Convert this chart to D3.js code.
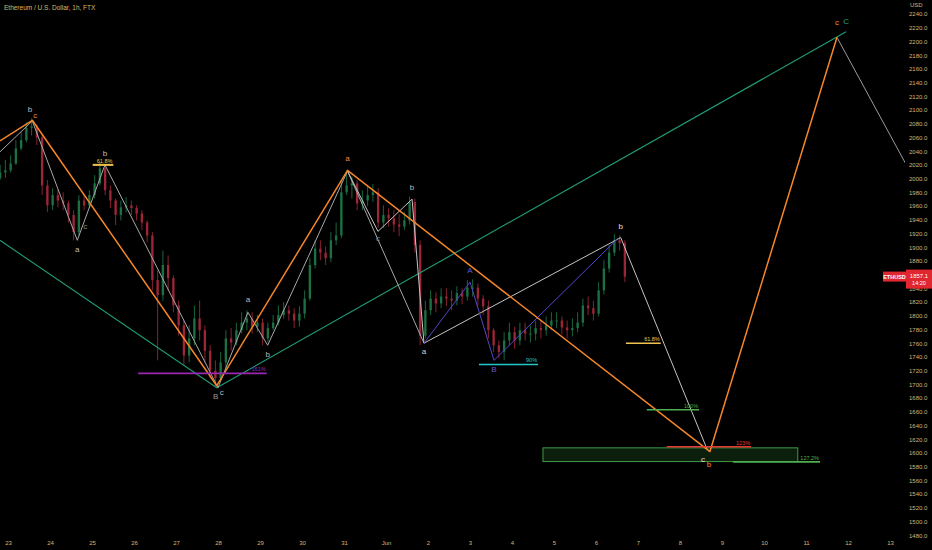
<!DOCTYPE html>
<html><head><meta charset="utf-8">
<script src="https://cdn.jsdelivr.net/npm/d3@7"></script>
<style>html,body{margin:0;padding:0;background:#000;overflow:hidden}svg{display:block}</style>
</head><body>
<script>
// ---------- DATA ----------
const title = "Ethereum / U.S. Dollar, 1h, FTX";
const candleStart = "2021-05-22T18:00:00Z";   // 3h candles
const candleHours = 3;
const firstOpen = 2001;
const closes = [2009,2012,2022,2044,2056,2074,2076,2060,1990,1961,1976,1968,1964,1947,1922,1968,1961,1976,1993,2015,
  1983,1968,1947,1958,1961,1957,1949,1936,1917,1852,1830,1874,1855,1815,1786,1742,1767,1796,1779,1749,
  1720,1709,1732,1767,1761,1779,1790,1796,1784,1790,1767,1782,1790,1801,1808,1803,1793,1803,1825,1874,
  1898,1892,1884,1910,1917,1980,1990,1993,1964,1968,1976,1980,1936,1947,1942,1933,1930,1939,1966,1903,
  1771,1808,1825,1818,1828,1825,1822,1833,1828,1841,1841,1825,1814,1779,1757,1747,1764,1776,1764,1779,
  1774,1774,1782,1779,1786,1793,1793,1783,1779,1782,1790,1815,1811,1803,1837,1869,1892,1910,1906,1857];
const highs = [2020,2027,2034,2056,2068,2082,2088,2079,2063,1998,1986,1983,1980,1968,1954,1976,1976,1983,2005,2024,
  2020,1990,1971,1968,1973,1968,1961,1954,1939,1922,1866,1895,1888,1859,1822,1793,1786,1815,1822,1786,
  1757,1735,1747,1779,1782,1790,1805,1808,1805,1801,1796,1790,1801,1815,1820,1815,1811,1814,1837,1884,
  1910,1910,1901,1922,1936,1998,2009,2003,1998,1983,1989,1992,1986,1961,1957,1954,1948,1951,1974,1971,
  1910,1822,1837,1834,1840,1840,1837,1843,1840,1852,1853,1847,1830,1822,1782,1764,1776,1790,1784,1790,
  1790,1786,1793,1793,1799,1805,1805,1799,1793,1796,1805,1825,1828,1822,1849,1881,1903,1919,1917,1910];
const lows = [1998,2001,2009,2020,2041,2053,2063,2049,1976,1951,1954,1958,1954,1936,1910,1917,1954,1957,1971,1990,
  1976,1957,1932,1939,1951,1947,1939,1925,1907,1837,1735,1822,1837,1805,1771,1728,1732,1757,1764,1732,
  1709,1697,1706,1723,1749,1757,1774,1779,1774,1776,1757,1761,1779,1786,1796,1793,1782,1784,1796,1822,
  1869,1881,1874,1878,1903,1913,1976,1971,1954,1954,1960,1966,1928,1928,1930,1922,1916,1925,1933,1892,
  1757,1767,1801,1805,1811,1814,1808,1815,1817,1822,1828,1814,1801,1767,1747,1738,1735,1757,1752,1757,
  1764,1761,1764,1767,1771,1779,1782,1773,1767,1770,1776,1784,1801,1793,1799,1831,1863,1887,1895,1849];

// wave drawings: [hours from 2021-05-23 00:00 UTC, price]
const waveOrange = [[-4.6,2055],[13.9,2085],[119.3,1698],[194,2012],[401.1,1602],[473.7,2206]];
const waveGrey1 = [[-4.6,2039],[13.9,2084],[39.6,1910],[55.4,2020],[120,1695],[137.1,1805],[148.4,1757],[194,2011],[237.7,1760]];
const waveGrey2 = [[194,2011],[211.4,1923],[230.9,1970],[237.7,1760],[350.1,1914],[399.4,1606]];
const waveGrey3 = [[473.7,2206],[518,1998]];
const channelTeal = [[-4.6,1910],[119.3,1695],[478.9,2214]];
const wavePurple = [[237.7,1760],[264,1849],[277.7,1735],[348.6,1913]];

// horizontal levels: [h0, h1, price, label, color]
const levels = [
  [74.4,147.8,1716,"161%","#9c27b0"],
  [48.4,60.2,2020,"61.8%","#f2c14e"],
  [269.1,302.9,1729,"90%","#26c6c6"],
  [353.1,373,1760,"61.8%","#f2c14e"],
  [365,394.9,1663,"100%","#4caf50"],
  [376.4,424.6,1609,"123%","#e53935"],
  [414.3,464,1587,"127.2%","#4caf50"]
];
const targetBox = [305.7,451.3,1607.4,1587.4];

// wave labels: [hours, price, text, color]
const waveLabels = [
  [12.6,2097,"b","#bdbdbd"],[15.6,2089,"c","#e08a3a"],
  [39.6,1893,"a","#bdbdbd"],[44.2,1926,"c","#8a8a8a"],[55.4,2033,"b","#bdbdbd"],
  [118.6,1679,"B","#9e9e9e"],[122.2,1684,"c","#bdbdbd"],
  [137.1,1820,"a","#bdbdbd"],[148.4,1740,"b","#bdbdbd"],
  [194,2026,"a","#f0883e"],[211.4,1909,"c","#8a8a8a"],[230.9,1984,"b","#bdbdbd"],
  [237.7,1744,"a","#d0d0d0"],[264,1863,"A","#6a5acd"],[277.7,1718,"B","#6a5acd"],
  [350.1,1927,"b","#e0e0e0"],[397.1,1587,"c","#e0e0e0"],[400.5,1580,"b","#f0883e"],
  [473.7,2224,"c","#f0883e"],[478.9,2226,"C","#26a07a"]
];

const xTickLabels = ["23","24","25","26","27","28","29","30","31","Jun","2","3","4","5","6","7","8","9","10","11","12","13"];
const yTicks = [1480,1500,1520,1540,1560,1580,1600,1620,1640,1660,1680,1700,1720,1740,1760,1780,1800,1820,1840,1880,1900,1920,1940,1960,1980,2000,2020,2040,2060,2080,2100,2120,2140,2160,2180,2200,2220,2240];
const lastPrice = 1857.1;
const countdown = "14:20";
const symbol = "ETHUSD";

// ---------- CHART ----------
const W = 932, H = 550, plotRight = 905;
const base = Date.parse("2021-05-23T00:00:00Z");
const hToDate = h => new Date(base + h*3600e3);

const x = d3.scaleUtc().domain([new Date("2021-05-23T00:00:00Z"), new Date("2021-06-13T00:00:00Z")]).range([8, 890]);
const y = d3.scaleLinear().domain([1500, 2240]).range([521.5, 14]);

const svg = d3.select("body").append("svg").attr("width", W).attr("height", H)
  .style("font-family", "'Liberation Sans', Arial, sans-serif");
svg.append("rect").attr("width", W).attr("height", H).attr("fill", "#000");

svg.append("defs").append("clipPath").attr("id", "plot")
  .append("rect").attr("x", 0).attr("y", 0).attr("width", plotRight).attr("height", H);
const g = svg.append("g").attr("clip-path", "url(#plot)");

// candles
const t0 = Date.parse(candleStart);
const candles = closes.map((c, i) => ({
  t: new Date(t0 + i*candleHours*3600e3),
  o: i === 0 ? firstOpen : closes[i-1], c, h: highs[i], l: lows[i]
}));
const step = x(new Date(t0 + candleHours*3600e3)) - x(new Date(t0));
const bw = step * 0.45;
const cg = g.append("g");
candles.forEach(d => {
  const cx = x(d.t) + step/2;
  const col = d.c >= d.o ? "#1c7044" : "#9a2636";
  cg.append("line").attr("x1", cx).attr("x2", cx).attr("y1", y(d.h)).attr("y2", y(d.l))
    .attr("stroke", col).attr("stroke-width", 0.9);
  const yt = y(Math.max(d.o, d.c)), yb = y(Math.min(d.o, d.c));
  cg.append("rect").attr("x", cx - bw/2).attr("y", yt).attr("width", bw).attr("height", Math.max(1, yb - yt))
    .attr("fill", col);
});

// target box
g.append("rect")
  .attr("x", x(hToDate(targetBox[0]))).attr("width", x(hToDate(targetBox[1])) - x(hToDate(targetBox[0])))
  .attr("y", y(targetBox[2])).attr("height", y(targetBox[3]) - y(targetBox[2]))
  .attr("fill", "rgba(56,142,60,0.22)").attr("stroke", "#3f9b45").attr("stroke-width", 1);

const line = d3.line().x(p => x(hToDate(p[0]))).y(p => y(p[1]));
function path(data, color, w) {
  g.append("path").datum(data).attr("d", line).attr("fill", "none").attr("stroke", color)
    .attr("stroke-width", w).attr("stroke-linejoin", "round");
}
path(channelTeal, "#1f9c78", 1.1);
path(waveGrey1, "#a8a8a8", 1);
path(waveGrey2, "#c4c4c4", 1);
path(waveGrey3, "#9a9a9a", 1);
path(wavePurple, "#5546c8", 1);
path(waveOrange, "#f5862a", 1.5);

// levels
levels.forEach(([h0, h1, p, lab, col]) => {
  g.append("line").attr("x1", x(hToDate(h0))).attr("x2", x(hToDate(h1)))
    .attr("y1", y(p)).attr("y2", y(p)).attr("stroke", col).attr("stroke-width", lab === "61.8%" && h0 < 100 ? 2 : 1.6);
  g.append("text").attr("x", x(hToDate(h1)) - 1).attr("y", y(p) - 2).attr("text-anchor", "end")
    .attr("fill", col).attr("font-size", 5.5).text(lab);
});

// wave labels
waveLabels.forEach(([h, p, t, col]) => {
  g.append("text").attr("x", x(hToDate(h))).attr("y", y(p)).attr("text-anchor", "middle")
    .attr("fill", col).attr("font-size", 8).text(t);
});

// title
svg.append("text").attr("x", 4).attr("y", 10).attr("fill", "#d9b86c").attr("font-size", 6.5).text(title);

// y axis labels
const ya = svg.append("g").attr("transform", `translate(${plotRight + 4},0)`)
  .call(d3.axisRight(y).tickValues(yTicks).tickFormat(d3.format(".1f")).tickSize(0).tickPadding(0));
ya.select(".domain").remove();
ya.selectAll("text").attr("fill", "#d4b673").attr("font-size", 6).attr("font-family", "'Liberation Sans', Arial, sans-serif");
svg.append("text").attr("x", 910).attr("y", 7).attr("fill", "#d4b673").attr("font-size", 6).text("USD");

// x axis labels
const xTicks = d3.utcDay.range(new Date("2021-05-23T00:00:00Z"), new Date("2021-06-13T12:00:00Z"));
const xa = svg.append("g").attr("transform", "translate(0,541)")
  .call(d3.axisBottom(x).tickValues(xTicks).tickFormat((d, i) => xTickLabels[i]).tickSize(0).tickPadding(0));
xa.select(".domain").remove();
xa.selectAll("text").attr("fill", "#d4b673").attr("font-size", 6).attr("font-family", "'Liberation Sans', Arial, sans-serif");

// price tag
const py = y(lastPrice);
svg.append("rect").attr("x", 883).attr("y", py - 5).attr("width", 23).attr("height", 10).attr("fill", "#e0262f");
svg.append("text").attr("x", 894.5).attr("y", py + 2).attr("text-anchor", "middle").attr("fill", "#fff")
  .attr("font-size", 5.5).attr("font-weight", "bold").text(symbol);
svg.append("rect").attr("x", 906).attr("y", py - 7).attr("width", 26).attr("height", 19).attr("fill", "#e0262f");
svg.append("text").attr("x", 919).attr("y", py + 1.5).attr("text-anchor", "middle").attr("fill", "#fff")
  .attr("font-size", 6).text(d3.format(".1f")(lastPrice));
svg.append("text").attr("x", 919).attr("y", py + 8.5).attr("text-anchor", "middle").attr("fill", "#fff")
  .attr("font-size", 5.5).text(countdown);
</script>
</body></html>
